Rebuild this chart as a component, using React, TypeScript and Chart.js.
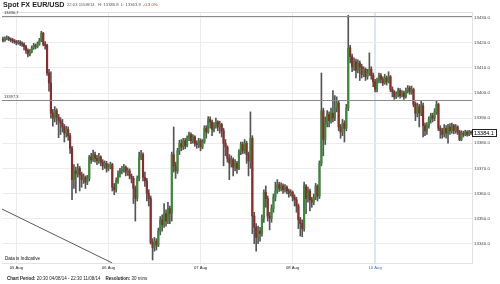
import React, { useEffect, useRef } from "react";
import { Chart, registerables } from "chart.js";

Chart.register(...registerables);

// ---------- data (30-minute EUR/USD candles) ----------
const FIRST_OPEN = 13421.5;

const CLOSE = [
  13421.0, 13421.8, 13422.0, 13421.5, 13421.2, 13420.8, 13420.5, 13420.0, 13420.3, 13419.8,
  13419.5, 13418.5, 13417.0, 13415.5, 13416.5, 13418.0, 13419.0, 13418.5, 13419.5, 13421.0,
  13423.8, 13419.5, 13419.0, 13408.0, 13404.0, 13392.0, 13390.0, 13393.0, 13390.5, 13389.0,
  13388.0, 13386.5, 13384.0, 13385.5, 13383.0, 13378.0, 13365.5, 13369.0, 13368.0, 13370.0,
  13367.5, 13365.5, 13366.5, 13364.5, 13366.0, 13374.5, 13373.5, 13375.5, 13374.0, 13373.0,
  13374.5, 13372.5, 13371.0, 13372.0, 13370.0, 13370.5, 13371.5, 13362.5, 13361.5, 13365.0,
  13368.0, 13369.0, 13369.5, 13370.5, 13368.5, 13369.0, 13367.0, 13366.0, 13362.0, 13358.0,
  13366.0, 13374.5, 13375.5, 13366.5, 13365.0, 13360.0, 13358.0, 13340.5, 13338.5, 13341.0,
  13339.5, 13345.0, 13349.5, 13347.5, 13352.0, 13349.0, 13354.0, 13352.0, 13375.5, 13371.0,
  13369.0, 13377.0, 13380.0, 13378.5, 13381.0, 13379.0, 13382.0, 13383.5, 13381.0, 13382.5,
  13380.0, 13379.5, 13381.0, 13378.5, 13380.5, 13386.0, 13384.5, 13389.5, 13388.5, 13385.5,
  13387.0, 13388.5, 13386.5, 13387.5, 13385.0, 13380.0, 13378.5, 13374.0, 13372.0, 13373.5,
  13370.5, 13372.0, 13370.0, 13376.5, 13379.5, 13377.0, 13380.0, 13375.5, 13373.0, 13382.0,
  13351.0, 13346.5, 13342.5, 13345.0, 13344.0, 13350.0, 13360.5, 13358.0, 13351.0, 13350.0,
  13354.0, 13358.5, 13361.0, 13363.5, 13362.0, 13363.0, 13361.5, 13362.5, 13361.0, 13360.0,
  13360.5, 13358.5, 13357.5, 13355.0, 13349.5, 13348.0, 13346.0, 13363.0, 13358.0, 13361.0,
  13357.5, 13356.5, 13358.5, 13363.0, 13359.0, 13372.0, 13393.0, 13381.5, 13388.0, 13391.5,
  13389.0, 13392.0, 13390.0, 13394.0, 13396.0, 13386.5, 13384.5, 13388.0, 13386.0, 13394.0,
  13418.0, 13414.5, 13410.5, 13412.5, 13409.0, 13412.0, 13410.5, 13407.5, 13409.5, 13406.5,
  13408.0, 13409.5, 13407.0, 13404.5, 13401.5, 13405.0, 13407.0, 13405.5, 13404.0, 13406.0,
  13404.5, 13406.5, 13401.5, 13400.5, 13398.5, 13399.5, 13401.0, 13399.0, 13400.0, 13398.5,
  13401.0, 13402.0, 13400.5, 13401.5, 13395.5, 13392.0, 13394.5, 13392.0, 13395.0, 13387.0,
  13385.0, 13387.0, 13389.5, 13391.0, 13390.0, 13392.5, 13395.5, 13386.0, 13385.0, 13383.5,
  13386.0, 13384.0, 13386.5, 13385.0, 13387.0, 13385.0, 13386.5, 13384.5, 13381.5, 13384.0,
  13383.5, 13384.5, 13383.5, 13384.5, 13384.1,
];

const HIGH = [
  13422.3, 13422.4, 13422.8, 13422.5, 13422.0, 13421.8, 13421.4, 13421.0, 13421.0, 13420.9,
  13420.4, 13420.0, 13419.0, 13417.6, 13417.4, 13418.8, 13419.8, 13419.6, 13420.4, 13421.8,
  13424.6, 13424.2, 13420.5, 13419.5, 13409.5, 13408.5, 13393.5, 13394.6, 13393.8, 13391.5,
  13390.2, 13389.5, 13387.5, 13386.8, 13386.5, 13384.0, 13378.8, 13371.5, 13370.5, 13371.8,
  13370.8, 13368.5, 13367.8, 13367.0, 13367.2, 13375.2, 13376.0, 13377.3, 13376.5, 13375.2,
  13376.0, 13375.0, 13373.5, 13373.0, 13372.8, 13371.8, 13372.5, 13372.0, 13364.0, 13366.2,
  13369.0, 13370.0, 13370.8, 13371.6, 13371.0, 13370.2, 13369.8, 13367.8, 13366.8, 13363.0,
  13367.0, 13376.5, 13377.2, 13376.2, 13368.5, 13366.0, 13361.5, 13359.0, 13342.0, 13342.5,
  13342.0, 13346.2, 13350.8, 13351.5, 13356.0, 13353.5, 13356.5, 13355.0, 13376.5, 13386.5,
  13372.5, 13378.0, 13381.2, 13381.5, 13382.0, 13382.0, 13383.0, 13384.5, 13384.2, 13383.5,
  13383.0, 13381.0, 13382.0, 13381.8, 13381.5, 13387.0, 13387.0, 13390.6, 13390.5, 13389.2,
  13388.2, 13390.0, 13389.0, 13388.8, 13388.0, 13386.0, 13381.5, 13379.0, 13375.5, 13375.0,
  13374.2, 13373.5, 13372.8, 13377.5, 13380.5, 13380.5, 13381.5, 13380.8, 13376.5, 13392.5,
  13383.0, 13352.5, 13348.0, 13347.0, 13346.5, 13351.5, 13361.5, 13363.0, 13359.0, 13352.5,
  13355.5, 13359.8, 13364.5, 13365.5, 13364.5, 13364.2, 13363.8, 13363.5, 13363.0, 13361.8,
  13361.5, 13361.0, 13359.5, 13358.5, 13355.8, 13350.5, 13349.5, 13364.5, 13363.5, 13362.5,
  13361.8, 13358.5, 13359.8, 13364.0, 13363.5, 13373.0, 13408.0, 13394.0, 13390.5, 13393.0,
  13392.5, 13394.0, 13401.0, 13399.0, 13398.5, 13396.8, 13387.5, 13389.5, 13389.0, 13395.5,
  13431.0, 13419.0, 13415.5, 13414.0, 13413.5, 13413.2, 13412.8, 13411.5, 13410.5, 13410.0,
  13409.5, 13416.0, 13410.5, 13408.0, 13405.5, 13406.0, 13408.0, 13407.8, 13406.5, 13407.5,
  13406.8, 13408.5, 13407.0, 13402.5, 13401.0, 13400.5, 13402.0, 13401.8, 13401.0, 13400.8,
  13402.0, 13403.0, 13402.8, 13402.8, 13402.0, 13396.5, 13396.0, 13395.5, 13397.0, 13396.0,
  13388.0, 13388.2, 13390.5, 13392.0, 13392.0, 13393.8, 13397.0, 13396.0, 13387.0, 13386.0,
  13387.5, 13387.0, 13387.5, 13387.8, 13388.0, 13387.5, 13387.5, 13387.0, 13385.2, 13385.0,
  13384.8, 13385.2, 13385.0, 13385.2, 13385.0,
];

const LOW = [
  13420.4, 13420.6, 13421.2, 13420.9, 13420.5, 13420.0, 13419.8, 13419.2, 13419.4, 13418.9,
  13418.6, 13417.2, 13415.8, 13414.4, 13414.8, 13416.0, 13417.4, 13417.6, 13418.0, 13419.0,
  13420.5, 13418.8, 13417.5, 13407.0, 13400.8, 13390.0, 13386.8, 13388.5, 13387.5, 13382.2,
  13383.5, 13384.5, 13380.5, 13382.5, 13381.2, 13376.0, 13357.5, 13362.0, 13360.2, 13366.5,
  13361.0, 13362.5, 13364.0, 13362.0, 13363.5, 13365.0, 13372.0, 13372.8, 13372.5, 13371.5,
  13372.0, 13371.0, 13369.5, 13370.0, 13368.5, 13369.0, 13369.8, 13361.0, 13359.5, 13360.5,
  13364.0, 13366.5, 13367.8, 13368.5, 13367.0, 13367.2, 13365.8, 13364.2, 13356.0, 13349.0,
  13357.0, 13365.0, 13373.5, 13365.0, 13362.8, 13357.0, 13355.0, 13339.8, 13333.5, 13337.0,
  13337.5, 13338.8, 13343.5, 13345.0, 13346.5, 13347.0, 13348.0, 13348.0, 13349.0, 13368.5,
  13366.0, 13368.0, 13375.5, 13377.0, 13377.5, 13377.8, 13378.5, 13381.0, 13379.8, 13380.0,
  13378.8, 13378.0, 13378.2, 13377.0, 13377.8, 13380.0, 13382.0, 13384.0, 13386.0, 13383.0,
  13384.5, 13386.0, 13385.0, 13384.0, 13382.5, 13371.0, 13375.0, 13372.5, 13365.5, 13370.5,
  13367.0, 13369.0, 13368.0, 13369.5, 13375.5, 13375.8, 13376.0, 13372.0, 13367.0, 13370.0,
  13344.0, 13340.0, 13337.0, 13340.0, 13341.0, 13343.0, 13348.5, 13354.5, 13349.0, 13345.5,
  13348.5, 13352.5, 13357.0, 13360.0, 13360.8, 13361.0, 13360.0, 13360.5, 13359.8, 13358.5,
  13359.0, 13357.0, 13355.0, 13352.5, 13346.0, 13343.0, 13342.8, 13345.0, 13352.0, 13356.5,
  13353.0, 13354.5, 13355.5, 13357.5, 13357.0, 13358.0, 13371.0, 13375.0, 13379.5, 13386.5,
  13386.5, 13388.0, 13388.5, 13389.0, 13392.5, 13385.0, 13382.0, 13383.0, 13380.5, 13385.0,
  13393.0, 13412.0, 13408.5, 13409.0, 13406.0, 13408.0, 13405.0, 13406.0, 13406.5, 13405.0,
  13405.5, 13407.0, 13405.5, 13402.5, 13400.5, 13400.5, 13404.0, 13404.0, 13403.0, 13403.5,
  13403.2, 13404.0, 13400.5, 13398.5, 13397.5, 13397.8, 13398.5, 13398.0, 13398.5, 13397.5,
  13398.0, 13400.0, 13399.5, 13399.5, 13394.5, 13389.0, 13390.5, 13386.5, 13391.0, 13382.5,
  13383.0, 13383.5, 13386.0, 13388.0, 13388.5, 13389.0, 13391.5, 13385.0, 13382.0, 13382.0,
  13382.5, 13382.0, 13380.0, 13383.5, 13384.0, 13383.8, 13384.0, 13383.5, 13381.0, 13381.0,
  13382.5, 13383.0, 13382.8, 13383.0, 13383.5,
];

const Y_TICKS = [13340, 13350, 13360, 13370, 13380, 13390, 13400, 13410, 13420, 13430];
const Y_MIN = 13332.3;
const Y_MAX = 13432.3;
const PERIOD_HIGH_LINE = 13430.7;
const LEVEL_LINE = 13397.3;
const TREND_POINTS = [
  { index: 0, value: 13353.8 },
  { index: 57, value: 13332.3 },
];
const LAST_PRICE = 13384.1;

// time axis: 20:30 04/08/14 .. Friday close, then Sunday open 21:30 10/08/14 .. 22:30 11/08/14
const SESSION_BREAK = 194;
const FIRST_BAR_TIME = Date.UTC(2014, 7, 4, 20, 30);
const SECOND_SESSION_TIME = Date.UTC(2014, 7, 10, 21, 30);
const HALF_HOUR_MS = 30 * 60 * 1000;
const MONTHS = ["Jan", "Feb", "Mar", "Apr", "May", "Jun", "Jul", "Aug", "Sep", "Oct", "Nov", "Dec"];

const UP_COLOR = "#3a8a3a";
const DOWN_COLOR = "#8f2a2a";
const WICK_COLOR = "#555555";

const OPEN = CLOSE.map((_, i) => (i === 0 ? FIRST_OPEN : CLOSE[i - 1]));
const TIMES = CLOSE.map((_, i) =>
  i < SESSION_BREAK
    ? FIRST_BAR_TIME + i * HALF_HOUR_MS
    : SECOND_SESSION_TIME + (i - SESSION_BREAK) * HALF_HOUR_MS
);
const pad = (n: number) => String(n).padStart(2, "0");
const LABELS = TIMES.map((t) => {
  const d = new Date(t);
  return `${pad(d.getUTCDate())} ${MONTHS[d.getUTCMonth()]} ${pad(d.getUTCHours())}:${pad(d.getUTCMinutes())}`;
});
const isDayMark = (i: number) => {
  if (i === SESSION_BREAK) return true;
  if (i > SESSION_BREAK) return false;
  const d = new Date(TIMES[i]);
  return d.getUTCHours() === 0 && d.getUTCMinutes() === 0;
};
const dayLabel = (i: number) => {
  const d = new Date(TIMES[i]);
  return `${pad(d.getUTCDate())} ${MONTHS[d.getUTCMonth()]}`;
};

const FONT = '"Liberation Sans", Arial, sans-serif';

const overlayPlugin = {
  id: "fxOverlay",
  afterDatasetsDraw(chart: any) {
    const { ctx, chartArea: a, scales } = chart;
    const x = scales.x;
    const y = scales.y;
    ctx.save();
    // top border of the plot
    ctx.strokeStyle = "#dedede";
    ctx.lineWidth = 1;
    ctx.beginPath();
    ctx.moveTo(a.left, Math.round(a.top) + 0.5);
    ctx.lineTo(a.right, Math.round(a.top) + 0.5);
    ctx.stroke();

    // reference levels
    ctx.strokeStyle = "#8a8a8a";
    ctx.fillStyle = "#333";
    ctx.font = `4px ${FONT}`;
    ctx.textBaseline = "bottom";
    ctx.textAlign = "left";
    [PERIOD_HIGH_LINE, LEVEL_LINE].forEach((v) => {
      const py = Math.round(y.getPixelForValue(v)) + 0.5;
      ctx.beginPath();
      ctx.moveTo(a.left, py);
      ctx.lineTo(a.right, py);
      ctx.stroke();
      ctx.fillText(v.toFixed(1), a.left + 2, py - 2);
    });

    // trend line
    ctx.save();
    ctx.beginPath();
    ctx.rect(a.left, a.top, a.right - a.left, a.bottom - a.top);
    ctx.clip();
    ctx.strokeStyle = "#5a5a5a";
    ctx.beginPath();
    ctx.moveTo(x.getPixelForValue(TREND_POINTS[0].index) - 1, y.getPixelForValue(TREND_POINTS[0].value));
    ctx.lineTo(x.getPixelForValue(TREND_POINTS[1].index), y.getPixelForValue(TREND_POINTS[1].value));
    ctx.stroke();
    ctx.restore();

    // last price marker
    const lastIndex = CLOSE.length - 1;
    const py = y.getPixelForValue(LAST_PRICE);
    ctx.setLineDash([1, 1]);
    ctx.strokeStyle = "#333";
    ctx.beginPath();
    ctx.moveTo(x.getPixelForValue(lastIndex) + 1, Math.round(py) + 0.5);
    ctx.lineTo(a.right, Math.round(py) + 0.5);
    ctx.stroke();
    ctx.setLineDash([]);
    ctx.fillStyle = "#fff";
    ctx.strokeStyle = "#222";
    const bx = Math.round(a.right) + 0.5;
    const by = Math.round(py - 3.5) + 0.5;
    ctx.fillRect(bx, by, 24, 7);
    ctx.strokeRect(bx, by, 24, 7);
    ctx.fillStyle = "#000";
    ctx.font = `5.5px ${FONT}`;
    ctx.textBaseline = "middle";
    ctx.fillText(LAST_PRICE.toFixed(1), bx + 1.5, by + 3.8);
    ctx.restore();
  },
};

export default function App() {
  const canvasRef = useRef<HTMLCanvasElement>(null);

  useEffect(() => {
    const canvas = canvasRef.current;
    if (!canvas) return;
    const chart = new Chart(canvas, {
      type: "bar",
      data: {
        labels: LABELS,
        datasets: [
          {
            label: "Body",
            data: CLOSE.map((c, i) => [OPEN[i], c]),
            backgroundColor: CLOSE.map((c, i) => (c >= OPEN[i] ? UP_COLOR : DOWN_COLOR)),
            barThickness: 1.5,
            grouped: false,
            order: 0,
          },
          {
            label: "Range",
            data: CLOSE.map((_, i) => [LOW[i], HIGH[i]]),
            backgroundColor: WICK_COLOR,
            barThickness: 1,
            grouped: false,
            order: 1,
          },
        ],
      },
      options: {
        responsive: false,
        animation: false,
        devicePixelRatio: 1,
        layout: { padding: { left: 2, top: 12, right: 0, bottom: 0 } },
        plugins: { legend: { display: false }, tooltip: { enabled: false } },
        scales: {
          x: {
            type: "category",
            offset: true,
            grid: {
              offset: false,
              drawTicks: false,
              color: (c: any) =>
                c.index === SESSION_BREAK ? "#dde5f3" : isDayMark(c.index) ? "#ececec" : "rgba(0,0,0,0)",
              lineWidth: (c: any) => (c.index === SESSION_BREAK ? 2 : 1),
            },
            border: { display: true, color: "#e2e2e2" },
            ticks: {
              autoSkip: false,
              maxRotation: 0,
              minRotation: 0,
              padding: 2,
              font: { size: 4.2, family: FONT },
              color: (c: any) => (c.index === SESSION_BREAK ? "#3b6fd0" : "#222"),
              callback: (_v: any, i: number) => (isDayMark(i) ? dayLabel(i) : ""),
            },
            afterFit: (s: any) => {
              s.height = 21;
            },
          },
          y: {
            position: "right",
            min: Y_MIN,
            max: Y_MAX,
            grid: { color: "#ececec", drawTicks: false },
            border: { display: true, color: "#e2e2e2" },
            ticks: {
              padding: 2,
              font: { size: 4.4, family: FONT },
              color: "#444",
              callback: (v: any) => Number(v).toFixed(1),
            },
            afterBuildTicks: (s: any) => {
              s.ticks = Y_TICKS.map((v) => ({ value: v }));
            },
            afterFit: (s: any) => {
              s.width = 28;
            },
          },
        },
      },
      plugins: [overlayPlugin],
    } as any);
    return () => chart.destroy();
  }, []);

  const small: React.CSSProperties = { position: "absolute", whiteSpace: "nowrap", lineHeight: 1 };
  return (
    <div
      style={{
        position: "fixed",
        left: 0,
        top: 0,
        width: 500,
        height: 284,
        background: "#fff",
        fontFamily: FONT,
        color: "#222",
        overflow: "hidden",
      }}
    >
      <canvas ref={canvasRef} width={500} height={284} style={{ position: "absolute", left: 0, top: 0 }} />
      <div style={{ ...small, left: 3, top: 0.5, fontSize: 7.2, fontWeight: "bold", color: "#222" }}>
        Spot FX EUR/USD
      </div>
      <div style={{ ...small, left: 67, top: 3, fontSize: 4.2, color: "#555" }}>
        22:03 11/08/14&nbsp;&nbsp;&nbsp;H: 13385.8&nbsp;&nbsp;L: 13363.9&nbsp;&nbsp;
        <span style={{ color: "#d42020" }}>-0.3 0%</span>
      </div>
      <div style={{ ...small, left: 5, top: 256.5, fontSize: 4.6, color: "#111" }}>Data is Indicative</div>
      <div style={{ ...small, left: 7, top: 276.5, fontSize: 4.5, color: "#222" }}>
        <b>Chart Period:</b> 20:30 04/08/14 - 22:30 11/08/14&nbsp;&nbsp;&nbsp;&nbsp;<b>Resolution:</b> 30 mins
      </div>
    </div>
  );
}
